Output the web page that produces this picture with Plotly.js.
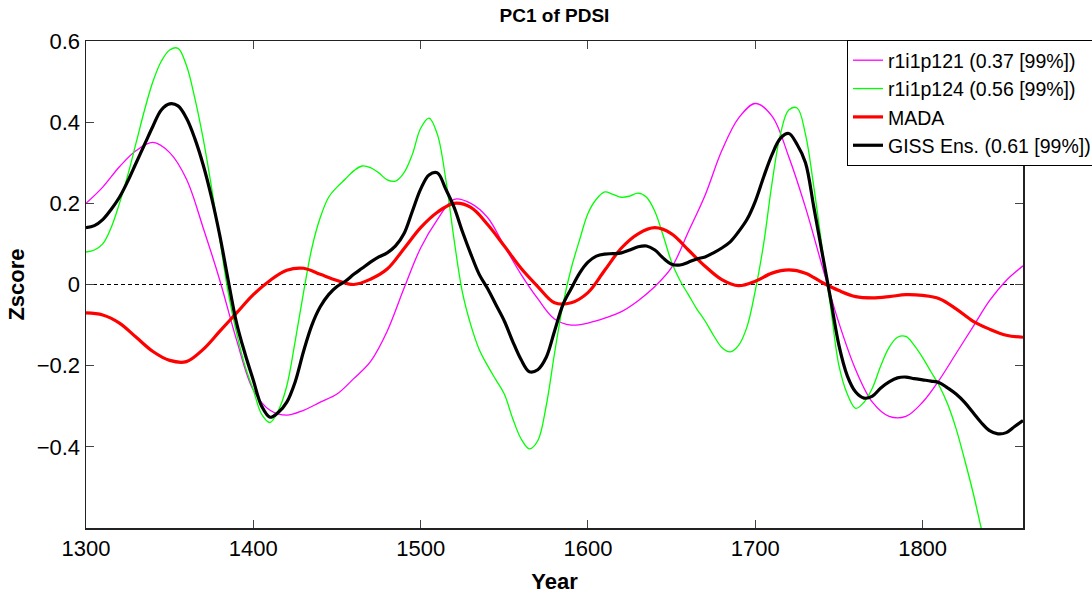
<!DOCTYPE html>
<html>
<head>
<meta charset="utf-8">
<script src="https://cdn.plot.ly/plotly-3.0.1.min.js"></script>
<style>html,body{margin:0;padding:0;background:#fff;}#chart{width:1092px;height:600px;}</style>
</head>
<body>
<div id="chart"></div>
<script>
// ---- data ----
const years10 = [1300,1310,1320,1330,1340,1350,1360,1370,1380,1390,1400,1410,1420,1430,1440,1450,1460,1470,1480,1490,1500,1510,1520,1530,1540,1550,1560,1570,1580,1590,1600,1610,1620,1630,1640,1650,1660,1670,1680,1690,1700,1710,1720,1730,1740,1750,1760,1770,1780,1790,1800,1810,1820,1830,1840,1850,1860];
const years5 = [1300,1305,1310,1315,1320,1325,1330,1335,1340,1345,1350,1355,1360,1365,1370,1375,1380,1385,1390,1395,1400,1405,1410,1415,1420,1425,1430,1435,1440,1445,1450,1455,1460,1465,1470,1475,1480,1485,1490,1495,1500,1505,1510,1515,1520,1525,1530,1535,1540,1545,1550,1555,1560,1565,1570,1575,1580,1585,1590,1595,1600,1605,1610,1615,1620,1625,1630,1635,1640,1645,1650,1655,1660,1665,1670,1675,1680,1685,1690,1695,1700,1705,1710,1715,1720,1725,1730,1735,1740,1745,1750,1755,1760,1765,1770,1775,1780,1785,1790,1795,1800,1805,1810,1815,1820,1825,1830,1835,1840,1845,1850,1855,1860];

const r1i1p121 = [0.2,0.24,0.29,0.33,0.35,0.325,0.26,0.14,0.01,-0.137,-0.26,-0.31,-0.322,-0.31,-0.29,-0.27,-0.232,-0.19,-0.115,-0.01,0.09,0.16,0.21,0.2,0.165,0.095,0.025,-0.035,-0.085,-0.1,-0.095,-0.083,-0.067,-0.04,-0.005,0.042,0.13,0.22,0.33,0.41,0.446,0.415,0.315,0.19,0.045,-0.095,-0.21,-0.29,-0.325,-0.325,-0.29,-0.235,-0.17,-0.105,-0.04,0.01,0.046];

const r1i1p124 = [0.08,0.085,0.1,0.14,0.2,0.27,0.35,0.43,0.5,0.55,0.578,0.582,0.54,0.46,0.36,0.24,0.11,-0.02,-0.12,-0.2,-0.26,-0.32,-0.34,-0.31,-0.25,-0.14,-0.02,0.09,0.165,0.215,0.24,0.26,0.28,0.292,0.288,0.275,0.258,0.255,0.275,0.32,0.385,0.41,0.37,0.26,0.11,-0.02,-0.1,-0.16,-0.2,-0.235,-0.27,-0.33,-0.38,-0.405,-0.385,-0.3,-0.17,-0.05,0.04,0.11,0.175,0.21,0.228,0.222,0.215,0.218,0.225,0.215,0.18,0.12,0.055,0.01,-0.025,-0.06,-0.09,-0.125,-0.155,-0.166,-0.15,-0.105,-0.015,0.1,0.25,0.37,0.43,0.435,0.37,0.24,0.09,-0.055,-0.2,-0.27,-0.305,-0.29,-0.255,-0.2,-0.155,-0.13,-0.128,-0.15,-0.18,-0.215,-0.25,-0.295,-0.355,-0.43,-0.51,-0.6,-0.69,-0.78,-0.88,-0.98,-1.08];

const mada = [-0.07,-0.075,-0.095,-0.13,-0.165,-0.187,-0.19,-0.16,-0.115,-0.07,-0.025,0.01,0.035,0.04,0.025,0.01,0.0,0.013,0.038,0.088,0.14,0.178,0.2,0.19,0.148,0.095,0.04,-0.005,-0.045,-0.045,-0.02,0.035,0.09,0.125,0.14,0.125,0.085,0.045,0.012,-0.003,0.008,0.028,0.036,0.028,0.005,-0.015,-0.03,-0.033,-0.03,-0.025,-0.027,-0.035,-0.06,-0.09,-0.11,-0.125,-0.13];

const gissEns = [0.14,0.145,0.16,0.185,0.215,0.255,0.3,0.345,0.39,0.43,0.445,0.44,0.41,0.36,0.295,0.215,0.12,0.01,-0.095,-0.17,-0.236,-0.3,-0.327,-0.315,-0.29,-0.24,-0.165,-0.1,-0.055,-0.025,-0.005,0.008,0.025,0.04,0.055,0.068,0.078,0.095,0.125,0.18,0.235,0.27,0.275,0.235,0.19,0.13,0.075,0.025,-0.01,-0.05,-0.09,-0.14,-0.185,-0.215,-0.21,-0.18,-0.115,-0.05,-0.01,0.028,0.055,0.07,0.075,0.076,0.078,0.085,0.093,0.095,0.085,0.065,0.05,0.048,0.055,0.063,0.068,0.078,0.09,0.105,0.13,0.16,0.205,0.265,0.32,0.36,0.372,0.345,0.3,0.19,0.077,-0.035,-0.15,-0.225,-0.265,-0.28,-0.275,-0.255,-0.24,-0.23,-0.228,-0.232,-0.235,-0.238,-0.242,-0.255,-0.27,-0.29,-0.315,-0.34,-0.36,-0.368,-0.365,-0.35,-0.335];

const seriesNames = ['r1i1p121 (0.37 [99%])','r1i1p124 (0.56 [99%])','MADA','GISS Ens. (0.61 [99%])'];
const xTicks = [1300,1400,1500,1600,1700,1800];
const yTicks = [-0.4,-0.2,0,0.2,0.4,0.6];

// ---- chart ----
const FONT = 'Liberation Sans, Arial, Helvetica, sans-serif';
function tr(x, y, name, color, width, grp){
  return {x:x, y:y, name:name, type:'scatter', mode:'lines',
    line:{color:color, width:width, shape:'spline', smoothing:1},
    legendgroup:grp, hoverinfo:'skip'};
}
const data = [
  tr(years10, r1i1p121, seriesNames[0], '#ff00ff', 1.3, 'a'),
  tr(years5, r1i1p124, seriesNames[1], '#00ff00', 1.3, 'b'),
  tr(years10, mada, seriesNames[2], '#ff0000', 3.2, 'c'),
  tr(years5, gissEns, seriesNames[3], '#000000', 3.2, 'd')
];
const axisCommon = {
  showgrid:false, zeroline:false, showline:true, linecolor:'#222', linewidth:1.5,
  mirror:'allticks', ticks:'inside', ticklen:8, tickwidth:1, tickcolor:'#444',
  tickfont:{family:FONT, size:22, color:'#000'}, automargin:false
};
const layout = {
  width:1092, height:600,
  margin:{l:86, r:69, t:41, b:72, autoexpand:false},
  paper_bgcolor:'#fff', plot_bgcolor:'#fff',
  title:{text:'<b>PC1 of PDSI</b>', font:{family:FONT, size:19, color:'#000'},
    x:0.5, xref:'paper', y:1-15/600, yref:'container', yanchor:'middle'},
  xaxis:Object.assign({}, axisCommon, {range:[1300,1860], tickvals:xTicks,
    title:{text:'<b>Year</b>', font:{family:FONT, size:22, color:'#000'}, standoff:13}}),
  yaxis:Object.assign({}, axisCommon, {range:[-0.6,0.6], tickvals:yTicks,
    title:{text:'<b>Zscore</b>', font:{family:FONT, size:22, color:'#000'}, standoff:6}}),
  showlegend:true,
  legend:{x:(847-86)/937, xanchor:'left', y:1.002, yanchor:'top',
    bgcolor:'#fff', bordercolor:'#000', borderwidth:1,
    font:{family:FONT, size:19.5, color:'#000'},
    traceorder:'grouped', tracegroupgap:0, itemwidth:30},
  shapes:[{type:'line', xref:'paper', x0:0, x1:1, yref:'y', y0:0, y1:0,
    line:{color:'#000', width:1, dash:'4px,3px'}, layer:'below'}]
};
Plotly.newPlot('chart', data, layout, {displayModeBar:false, staticPlot:true});
</script>
</body>
</html>
